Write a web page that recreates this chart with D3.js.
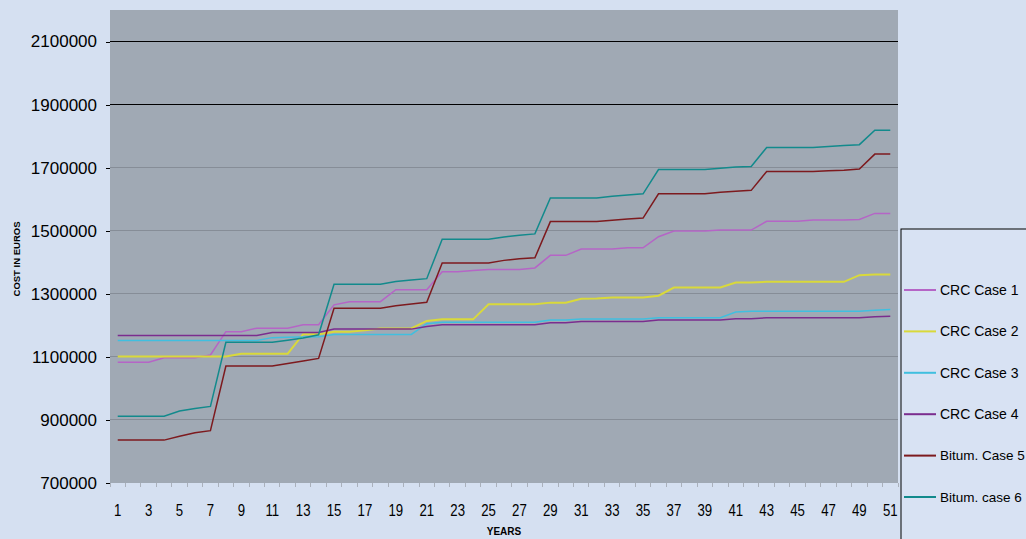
<!DOCTYPE html>
<html lang="en">
  <head>
    <meta charset="UTF-8" />
    <title>Cost in euros over years</title>
    <style>
      body { margin: 0; background: #d5e0f1; }
      svg { display: block; font-family: Arial, 'Liberation Sans', sans-serif; }
    </style>
  </head>
  <body>
    <svg width="1026" height="539"></svg>
    <script src="https://d3js.org/d3.v7.min.js"></script>
    <script>
      const years = d3.range(1, 52);
      const yearLabels = years.filter((d) => d % 2 === 1);
      const yTicks = [700000, 900000, 1100000, 1300000, 1500000, 1700000, 1900000, 2100000];

      const seriesNames = ['CRC Case 1', 'CRC Case 2', 'CRC Case 3', 'CRC Case 4', 'Bitum. Case 5', 'Bitum. case 6'];
      const seriesColors = ['#b565c6', '#d9d93a', '#40bfdf', '#7b2d8e', '#7d1a1e', '#128a8c'];

      const crcCase1 = [
        1083000, 1083000, 1083000, 1097000, 1097000, 1097000, 1106000, 1180000, 1180000, 1191000,
        1191000, 1191000, 1202000, 1202000, 1265000, 1275000, 1275000, 1275000, 1313000, 1313000,
        1313000, 1370000, 1370000, 1374000, 1377000, 1377000, 1377000, 1382000, 1422000, 1422000,
        1442000, 1442000, 1442000, 1446000, 1446000, 1481000, 1499000, 1499000, 1499000, 1502000,
        1502000, 1502000, 1530000, 1530000, 1530000, 1534000, 1534000, 1534000, 1536000, 1555000,
        1555000
      ];
      const crcCase2 = [
        1101000, 1101000, 1101000, 1101000, 1101000, 1101000, 1101000, 1101000, 1110000, 1110000,
        1110000, 1110000, 1172000, 1172000, 1180000, 1180000, 1184000, 1190000, 1190000, 1190000,
        1214000, 1219000, 1219000, 1219000, 1267000, 1267000, 1267000, 1267000, 1272000, 1272000,
        1284000, 1285000, 1288000, 1288000, 1288000, 1294000, 1320000, 1320000, 1320000, 1320000,
        1336000, 1336000, 1338000, 1338000, 1338000, 1338000, 1338000, 1338000, 1359000, 1361000,
        1361000
      ];
      const crcCase3 = [
        1152000, 1152000, 1152000, 1152000, 1152000, 1152000, 1152000, 1152000, 1152000, 1152000,
        1161000, 1162000, 1163000, 1164000, 1171000, 1171000, 1171000, 1171000, 1171000, 1171000,
        1205000, 1210000, 1210000, 1210000, 1210000, 1210000, 1210000, 1210000, 1217000, 1217000,
        1220000, 1220000, 1220000, 1220000, 1220000, 1224000, 1224000, 1224000, 1224000, 1224000,
        1242000, 1245000, 1245000, 1245000, 1245000, 1245000, 1245000, 1245000, 1245000, 1248000,
        1250000
      ];
      const crcCase4 = [
        1168000, 1168000, 1168000, 1168000, 1168000, 1168000, 1168000, 1168000, 1168000, 1168000,
        1177000, 1177000, 1177000, 1177000, 1188000, 1188000, 1188000, 1188000, 1188000, 1188000,
        1196000, 1202000, 1202000, 1202000, 1202000, 1202000, 1202000, 1202000, 1208000, 1208000,
        1212000, 1212000, 1212000, 1212000, 1212000, 1217000, 1217000, 1217000, 1217000, 1217000,
        1221000, 1221000, 1224000, 1224000, 1224000, 1224000, 1224000, 1224000, 1224000, 1227000,
        1229000
      ];
      const bitumCase5 = [
        836000, 836000, 836000, 836000, 848000, 859000, 866000, 1071000, 1071000, 1071000,
        1071000, 1079000, 1087000, 1095000, 1254000, 1254000, 1254000, 1254000, 1262000, 1268000,
        1273000, 1398000, 1398000, 1398000, 1398000, 1406000, 1411000, 1414000, 1529000, 1529000,
        1529000, 1529000, 1533000, 1537000, 1540000, 1617000, 1617000, 1617000, 1617000, 1622000,
        1625000, 1628000, 1688000, 1688000, 1688000, 1688000, 1690000, 1692000, 1696000, 1743000,
        1743000
      ];
      const bitumCase6 = [
        912000, 912000, 912000, 912000, 928000, 936000, 943000, 1146000, 1146000, 1146000,
        1146000, 1153000, 1160000, 1170000, 1330000, 1330000, 1330000, 1330000, 1339000, 1344000,
        1348000, 1473000, 1473000, 1473000, 1473000, 1480000, 1486000, 1490000, 1604000, 1604000,
        1604000, 1604000, 1609000, 1613000, 1617000, 1694000, 1694000, 1694000, 1694000, 1698000,
        1702000, 1704000, 1764000, 1764000, 1764000, 1764000, 1767000, 1770000, 1773000, 1819000,
        1819000
      ];

      const seriesValues = [crcCase1, crcCase2, crcCase3, crcCase4, bitumCase5, bitumCase6];

      const svg = d3.select('svg');
      const plot = { left: 110, right: 898, top: 10, bottom: 483 };

      const x = d3.scaleBand().domain(years).range([plot.left, plot.right]);
      const xc = (d) => x(d) + x.bandwidth() / 2;
      const y = d3.scaleLinear().domain([700000, 2200000]).range([plot.bottom, plot.top]);

      // plot background
      svg.append('rect')
        .attr('x', plot.left)
        .attr('y', plot.top)
        .attr('width', plot.right - plot.left)
        .attr('height', plot.bottom - plot.top)
        .attr('fill', '#a0a9b4');

      // gridlines
      svg.append('g')
        .selectAll('line')
        .data(yTicks.slice(1))
        .join('line')
        .attr('x1', plot.left)
        .attr('x2', plot.right)
        .attr('y1', (d) => y(d))
        .attr('y2', (d) => y(d))
        .attr('stroke', (d) => (d >= 1900000 ? '#000' : '#868d97'))
        .attr('stroke-width', 1)
        .attr('shape-rendering', 'crispEdges');

      // y axis
      const yAxis = svg.append('g')
        .attr('transform', `translate(${plot.left},0)`)
        .call(d3.axisLeft(y).tickValues(yTicks).tickSize(4).tickPadding(9).tickFormat(d3.format('d')));
      yAxis.select('.domain').remove();
      yAxis.selectAll('text').attr('font-size', 17).attr('fill', '#000');
      yAxis.selectAll('line').attr('stroke', '#000').attr('shape-rendering', 'crispEdges');

      // x axis tick marks at category boundaries
      svg.append('g')
        .selectAll('line')
        .data(years.concat([null]))
        .join('line')
        .attr('x1', (d) => (d === null ? plot.right : x(d)))
        .attr('x2', (d) => (d === null ? plot.right : x(d)))
        .attr('y1', plot.bottom)
        .attr('y2', plot.bottom + 4)
        .attr('stroke', '#aab1bc')
        .attr('shape-rendering', 'crispEdges');

      const xAxis = svg.append('g')
        .attr('transform', `translate(0,${plot.bottom})`)
        .call(d3.axisBottom(x).tickValues(yearLabels).tickSize(0).tickPadding(21));
      xAxis.select('.domain').remove();
      xAxis.selectAll('text')
        .attr('font-size', 16.5)
        .attr('fill', '#000')
        .attr('transform', 'scale(0.8,1)');

      // axis titles
      svg.append('text')
        .attr('x', (plot.left + plot.right) / 2)
        .attr('y', 535)
        .attr('text-anchor', 'middle')
        .attr('font-size', 10)
        .attr('font-weight', 'bold')
        .text('YEARS');

      svg.append('text')
        .attr('transform', 'translate(20,259) rotate(-90)')
        .attr('text-anchor', 'middle')
        .attr('font-size', 9.5)
        .attr('font-weight', 'bold')
        .text('COST IN EUROS');

      // series lines
      const line = d3.line()
        .x((d, i) => xc(years[i]))
        .y((d) => y(d));

      svg.append('g')
        .selectAll('path')
        .data(seriesValues)
        .join('path')
        .attr('d', line)
        .attr('fill', 'none')
        .attr('stroke', (d, i) => seriesColors[i])
        .attr('stroke-width', (d, i) => (i === 1 ? 2 : 1.5));

      // legend
      const legend = svg.append('g').attr('transform', 'translate(901,229)');
      legend.append('rect')
        .attr('width', 130)
        .attr('height', 320)
        .attr('fill', '#d8e2f3')
        .attr('stroke', '#000')
        .attr('stroke-width', 1);

      const item = legend.selectAll('g.item')
        .data(seriesNames)
        .join('g')
        .attr('class', 'item')
        .attr('transform', (d, i) => `translate(0,${61 + i * 41.4})`);
      item.append('line')
        .attr('x1', 3)
        .attr('x2', 35)
        .attr('stroke', (d, i) => seriesColors[i])
        .attr('stroke-width', 2);
      item.append('text')
        .attr('x', 39)
        .attr('dy', '0.36em')
        .attr('font-size', (d, i) => (i > 3 ? 13.5 : 14))
        .attr('fill', '#000')
        .text((d) => d);
    </script>
  </body>
</html>
